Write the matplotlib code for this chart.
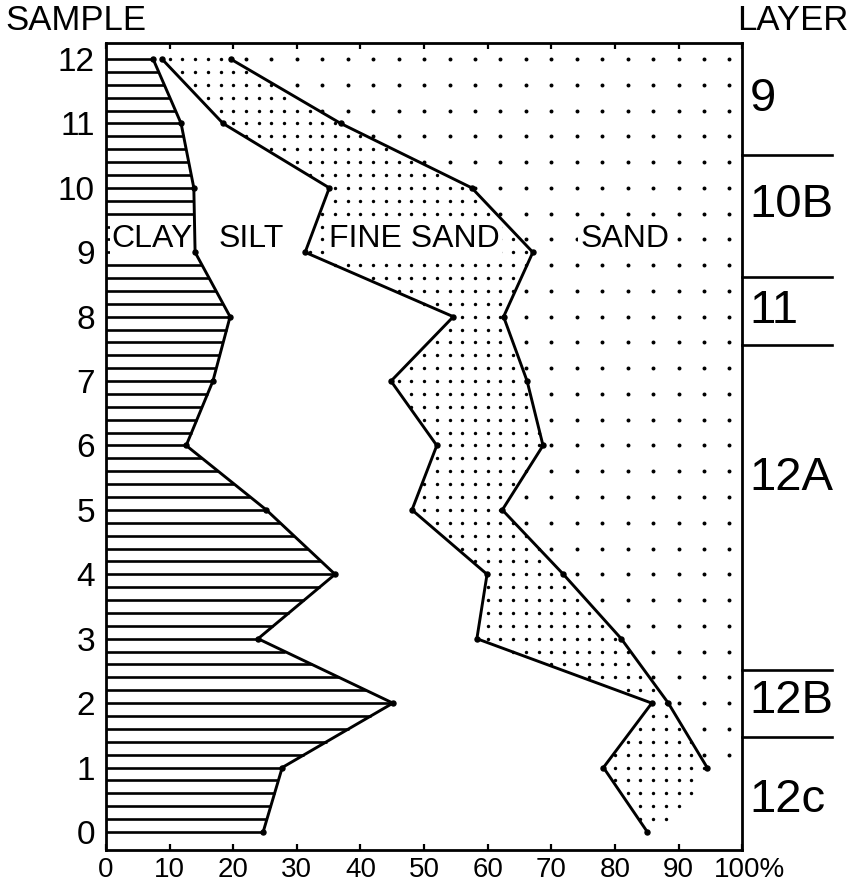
import matplotlib

matplotlib.use("Agg")
import matplotlib.pyplot as plt
import numpy as np
from matplotlib.path import Path
from matplotlib.transforms import ScaledTranslation

plt.rcParams["font.family"] = ["Liberation Sans", "DejaVu Sans"]

# grain-size boundaries (cumulative %) per sample
samples = np.arange(13)
clay_top = [24.7, 27.7, 45.1, 23.9, 36.0, 25.2, 12.6, 16.8, 19.5, 14.0, 13.8, 11.8, 7.4]
silt_top = [85.1, 78.2, 85.8, 58.3, 59.9, 48.1, 52.0, 44.8, 54.6, 31.3, 35.1, 18.4, 8.8]
fine_sand_top = [88.5, 94.5, 88.4, 81.0, 71.9, 62.3, 68.7, 66.2, 62.5, 67.1, 57.5, 36.9, 19.6]

class_names = ["CLAY", "SILT", "FINE SAND", "SAND"]
class_x = [7.3, 22.9, 48.4, 81.6]
class_y = 9.2

layer_names = ["9", "10B", "11", "12A", "12B", "12c"]
layer_label_y = [11.38, 9.74, 8.09, 5.5, 2.03, 0.5]
layer_bounds = [10.51, 8.62, 7.56, 2.52, 1.48]

x_ticks = [0, 10, 20, 30, 40, 50, 60, 70, 80, 90, 100]
x_labels = ["0", "10", "20", "30", "40", "50", "60", "70", "80", "90", "100%"]
y_ticks = list(range(13))

figure = plt.figure(figsize=(8.49, 8.84), dpi=100, facecolor="white")
axis = figure.add_axes([0.1249, 0.0385, 0.7492, 0.9129])
axis.set_xlim(0, 100)
axis.set_ylim(-0.28, 12.25)

# clay: horizontal hatch lines
hatch_y = np.round(np.arange(0, 12.01, 0.2), 2)
axis.hlines(hatch_y, 0, np.interp(hatch_y, samples, clay_top), color="black", lw=1.9, zorder=2)

# fine sand: dense stipple
fine_poly = list(zip(silt_top, samples)) + list(zip(fine_sand_top[::-1], samples[::-1]))
gx, gy = np.meshgrid(np.arange(0, 101, 2.0), np.round(12 - np.arange(0, 61) * 0.2, 2))
grid = np.column_stack([gx.ravel(), gy.ravel()])
inside = Path(fine_poly).contains_points(grid)
axis.scatter(grid[inside, 0], grid[inside, 1], s=6, color="black", linewidths=0, zorder=2)

# sand: sparse stipple
sand_poly = list(zip(fine_sand_top[1:], samples[1:])) + [(100, 12.25), (100, 1.0)]
gx, gy = np.meshgrid(np.arange(2, 100, 4.0), np.round(12 - np.arange(0, 31) * 0.4, 2))
grid = np.column_stack([gx.ravel(), gy.ravel()])
inside = Path(sand_poly).contains_points(grid)
axis.scatter(grid[inside, 0], grid[inside, 1], s=8, color="black", linewidths=0, zorder=2)

# class names sit on white patches that hide the fill texture, under the boundary lines
for name, x in zip(class_names, class_x):
    axis.text(
        x, class_y, name, ha="center", va="center", fontsize=23, zorder=2.5,
        bbox={"facecolor": "white", "edgecolor": "none", "pad": 1.5},
    )

# boundary lines
line_style = dict(color="black", lw=2.1, marker="o", markersize=3.6, zorder=3)
axis.plot(clay_top, samples, **line_style)
axis.plot(silt_top, samples, **line_style)
axis.plot(fine_sand_top[1:], samples[1:], **line_style)

# layer column on the right
for y in layer_bounds:
    axis.plot([100, 114.2], [y, y], color="black", lw=1.9, clip_on=False)
for name, y in zip(layer_names, layer_label_y):
    axis.text(101.2, y, name, ha="left", va="center", fontsize=34, clip_on=False)

for spine in axis.spines.values():
    spine.set_linewidth(2.0)
axis.set_xticks(x_ticks)
axis.set_xticklabels(x_labels, fontsize=20)
axis.tick_params(axis="x", direction="in", length=4, width=1.6, top=True, pad=5)
last_label = axis.get_xticklabels()[-1]
last_label.set_ha("left")
last_label.set_transform(
    last_label.get_transform() + ScaledTranslation(-20 / 72, 0, figure.dpi_scale_trans)
)
axis.set_yticks(y_ticks)
axis.set_yticklabels([str(v) for v in y_ticks], fontsize=24)
axis.tick_params(axis="y", length=0, pad=8)

figure.text(0.006, 0.977, "SAMPLE", ha="left", va="center", fontsize=25)
figure.text(0.999, 0.977, "LAYER", ha="right", va="center", fontsize=25)

figure.savefig("out.png", dpi=100, facecolor="white")
